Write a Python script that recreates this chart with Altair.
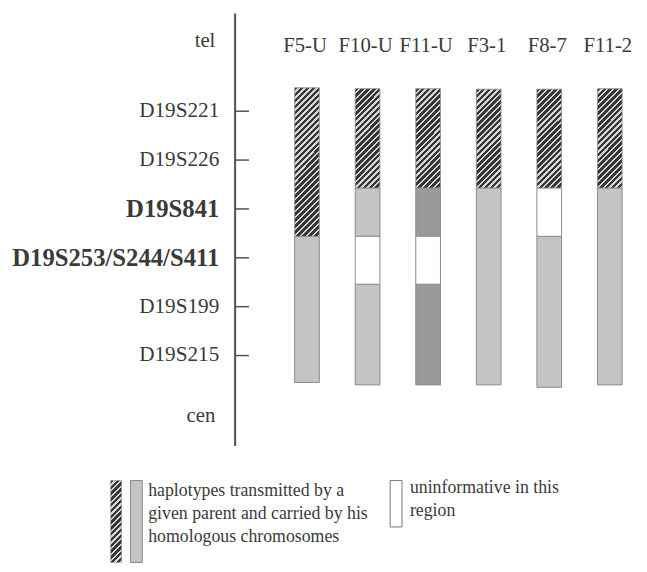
import altair as alt
import pandas as pd

# ---------------- data ----------------
samples = ["F5-U", "F10-U", "F11-U", "F3-1", "F8-7", "F11-2"]

markers = ["D19S221", "D19S226", "D19S841", "D19S253/S244/S411", "D19S199", "D19S215"]
marker_pos = [1, 2, 3, 4, 5, 6]
marker_bold = [False, False, True, True, False, False]

end_labels = ["tel", "cen"]
end_pos = [-0.43, 7.24]

seg_sample = ["F5-U", "F5-U",
              "F10-U", "F10-U", "F10-U", "F10-U",
              "F11-U", "F11-U", "F11-U", "F11-U",
              "F3-1", "F3-1",
              "F8-7", "F8-7", "F8-7",
              "F11-2", "F11-2"]
seg_start = [0.52, 3.56,
             0.54, 2.57, 3.56, 4.54,
             0.54, 2.57, 3.56, 4.54,
             0.55, 2.57,
             0.55, 2.57, 3.56,
             0.54, 2.57]
seg_end = [3.56, 6.55,
           2.57, 3.56, 4.54, 6.6,
           2.57, 3.56, 4.54, 6.6,
           2.57, 6.6,
           2.57, 3.56, 6.65,
           2.57, 6.6]
seg_kind = ["hatch", "light",
            "hatch", "light", "white", "light",
            "hatch", "medium", "white", "medium",
            "hatch", "light",
            "hatch", "white", "light",
            "hatch", "light"]

legend_lines_1 = ["haplotypes transmitted by a",
                  "given parent and carried by his",
                  "homologous chromosomes"]
legend_lines_2 = ["uninformative in this", "region"]

# ---------------- layout / style ----------------
W, H = 401, 438
Y_DOMAIN = [-1.0, 7.85]
PX_PER_UNIT = H / (Y_DOMAIN[1] - Y_DOMAIN[0])
BAR_W = 25
DARK = "#363636"
HATCH_LIGHT = "#d6d6d6"
LIGHT = "#c4c4c4"
MEDIUM = "#9a9a9a"
EDGE = "#8a8a8a"
TEXT = "#3a3a3a"
FONT = "Liberation Serif"


def hatch_fill(w, h, period=6.0, frac=0.6):
    n = max(1, round((w + h) / period))
    stops = []
    for i in range(n):
        o0, o1, o2 = i / n, (i + frac) / n, (i + 1) / n
        stops += [
            {"offset": o0, "color": DARK},
            {"offset": o1, "color": DARK},
            {"offset": o1, "color": HATCH_LIGHT},
            {"offset": o2, "color": HATCH_LIGHT},
        ]
    k = (w + h) / (w * w + h * h)
    return {"gradient": "linear", "x1": 0, "y1": 0,
            "x2": w * k, "y2": h * k, "stops": stops}


seg = pd.DataFrame({"sample": seg_sample, "start": seg_start,
                    "end": seg_end, "kind": seg_kind})
seg["idx"] = [samples.index(s) for s in seg["sample"]]
seg["hpx"] = ((seg["end"] - seg["start"]) * PX_PER_UNIT).round(0)

cols = pd.DataFrame({"sample": samples, "idx": list(range(len(samples)))})
mk = pd.DataFrame({"marker": markers, "pos": marker_pos, "bold": marker_bold})
ends = pd.DataFrame({"label": end_labels, "pos": end_pos})
one = pd.DataFrame({"a": [0]})

xscale = alt.Scale(domain=[-1.105, 5.27], nice=False, zero=False)
yscale = alt.Scale(domain=Y_DOMAIN, reverse=True, nice=False, zero=False)

X = alt.X("idx:Q", scale=xscale, axis=None)
Y0 = alt.Y("start:Q", scale=yscale, axis=None)
Y1 = alt.Y2("end:Q")

layers = []

# solid segments
for kind, color in [("light", LIGHT), ("medium", MEDIUM), ("white", "#ffffff")]:
    layers.append(
        alt.Chart(seg).transform_filter(alt.datum.kind == kind)
        .mark_bar(width=BAR_W, fill=color, stroke=EDGE, strokeWidth=1)
        .encode(x=X, y=Y0, y2=Y1)
    )

# hatched segments (one gradient per segment height)
hatch = seg[seg["kind"] == "hatch"]
for hpx in sorted(hatch["hpx"].unique()):
    layers.append(
        alt.Chart(hatch[hatch["hpx"] == hpx])
        .mark_bar(width=BAR_W, fill=hatch_fill(BAR_W, float(hpx)),
                  stroke=EDGE, strokeWidth=0.8)
        .encode(x=X, y=Y0, y2=Y1)
    )

# vertical axis line
layers.append(
    alt.Chart(one).mark_rule(color="#505050", strokeWidth=2)
    .encode(x=alt.value(0), y=alt.value(0), y2=alt.value(H))
)

# ticks to the right of the axis
layers.append(
    alt.Chart(mk).mark_rule(color="#505050", strokeWidth=1.5)
    .encode(x=alt.value(0), x2=alt.value(14),
            y=alt.Y("pos:Q", scale=yscale, axis=None))
)

# marker labels
layers.append(
    alt.Chart(mk).transform_filter("!datum.bold")
    .mark_text(align="right", baseline="middle", font=FONT, fontSize=21.5, color=TEXT)
    .encode(x=alt.value(-16), y=alt.Y("pos:Q", scale=yscale, axis=None), text="marker:N")
)
layers.append(
    alt.Chart(mk).transform_filter("datum.bold")
    .mark_text(align="right", baseline="middle", font=FONT, fontSize=25,
               fontWeight="bold", color=TEXT)
    .encode(x=alt.value(-16), y=alt.Y("pos:Q", scale=yscale, axis=None), text="marker:N")
)
layers.append(
    alt.Chart(ends)
    .mark_text(align="right", baseline="middle", font=FONT, fontSize=21, color=TEXT)
    .encode(x=alt.value(-20), y=alt.Y("pos:Q", scale=yscale, axis=None), text="label:N")
)

# column labels
layers.append(
    alt.Chart(cols)
    .mark_text(align="center", baseline="middle", font=FONT, fontSize=21, color=TEXT, dx=-2)
    .encode(x=X, y=alt.value(33), text="sample:N")
)

# ---------------- legend ----------------
layers.append(
    alt.Chart(one).mark_rect(fill=hatch_fill(11, 83), stroke=EDGE, strokeWidth=0.6)
    .encode(x=alt.value(-126), x2=alt.value(-115), y=alt.value(473), y2=alt.value(556))
)
layers.append(
    alt.Chart(one).mark_rect(fill=LIGHT, stroke=EDGE, strokeWidth=1)
    .encode(x=alt.value(-106), x2=alt.value(-94), y=alt.value(473), y2=alt.value(556))
)
layers.append(
    alt.Chart(one).mark_rect(fill="#ffffff", stroke="#777777", strokeWidth=1)
    .encode(x=alt.value(157), x2=alt.value(169), y=alt.value(473), y2=alt.value(520))
)
leg1 = pd.DataFrame({"t": legend_lines_1, "i": list(range(len(legend_lines_1)))})
leg2 = pd.DataFrame({"t": legend_lines_2, "i": list(range(len(legend_lines_2)))})
for i, line in enumerate(legend_lines_1):
    layers.append(
        alt.Chart(leg1).transform_filter(alt.datum.i == i)
        .mark_text(align="left", baseline="middle", font=FONT, fontSize=18, color=TEXT)
        .encode(x=alt.value(-88), y=alt.value(484 + 23 * i), text="t:N")
    )
for i, line in enumerate(legend_lines_2):
    layers.append(
        alt.Chart(leg2).transform_filter(alt.datum.i == i)
        .mark_text(align="left", baseline="middle", font=FONT, fontSize=18, color=TEXT)
        .encode(x=alt.value(177), y=alt.value(481 + 23 * i), text="t:N")
    )

chart = alt.layer(*layers).properties(
    width=W, height=H,
    padding={"left": 230, "top": 2, "right": 8, "bottom": 116},
    autosize=alt.AutoSizeParams(type="none"),
    background="white",
).configure_view(stroke=None, strokeWidth=0)

chart.save("out.html", embed_options={"renderer": "svg", "actions": False})
